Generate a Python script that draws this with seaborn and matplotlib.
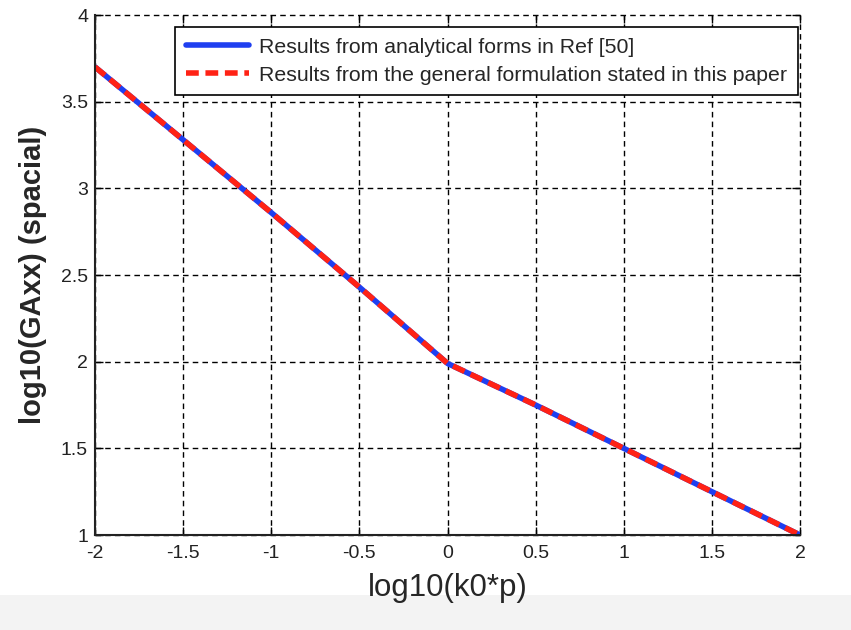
import numpy as np
import pandas as pd
import matplotlib
matplotlib.use("Agg")
import matplotlib.pyplot as plt
import seaborn as sns

# Data
x_vals = [-2.0, -1.5, -1.0, -0.5, 0.0, 0.5, 1.0, 1.5, 2.0]
y_ref50 = [3.70, 3.28, 2.86, 2.43, 1.99, 1.75, 1.50, 1.25, 1.00]
y_paper = [3.70, 3.28, 2.86, 2.43, 1.99, 1.75, 1.50, 1.25, 1.00]
series_names = ["Results from analytical forms in Ref [50]",
                "Results from the general formulation stated in this paper"]
x_ticks = [-2, -1.5, -1, -0.5, 0, 0.5, 1, 1.5, 2]
x_tick_labels = ["-2", "-1.5", "-1", "-0.5", "0", "0.5", "1", "1.5", "2"]
y_ticks = [1, 1.5, 2, 2.5, 3, 3.5, 4]
y_tick_labels = ["1", "1.5", "2", "2.5", "3", "3.5", "4"]
x_label = "log10(k0*p)"
y_label = "log10(GAxx) (spacial)"

sns.set_theme(style="white")
plt.rcParams['font.family'] = ['Liberation Sans', 'DejaVu Sans']

df = pd.concat([
    pd.DataFrame({"x": x_vals, "y": y_ref50, "series": series_names[0]}),
    pd.DataFrame({"x": x_vals, "y": y_paper, "series": series_names[1]}),
])

fig = plt.figure(figsize=(8.51, 6.30), dpi=100)
fig.patch.set_facecolor("white")
# light gray band at the bottom (behind everything)
fig.patches.append(matplotlib.patches.Rectangle((0, 0), 1, 35 / 630, transform=fig.transFigure,
                                                facecolor="#f3f3f3", edgecolor="none", zorder=-5))
ax = fig.add_axes([95 / 851, 1 - 535 / 630, 705 / 851, 520 / 630])
ax.set_zorder(1)
ax.patch.set_alpha(0)

sns.lineplot(data=df, x="x", y="y", hue="series", style="series",
             palette={series_names[0]: "#1f3ff0", series_names[1]: "#ff2215"},
             dashes={series_names[0]: "", series_names[1]: (2.3, 1.2)},
             linewidth=4, ax=ax, sort=False)

ax.set_xlim(-2, 2)
ax.set_ylim(1, 4)
ax.set_xticks(x_ticks)
ax.set_xticklabels(x_tick_labels)
ax.set_yticks(y_ticks)
ax.set_yticklabels(y_tick_labels)
ax.set_xlabel(x_label, fontsize=22.5, labelpad=8)
ax.set_ylabel(y_label, fontsize=21, fontweight="bold", labelpad=10)

ax.grid(True, color="black", linestyle=(0, (4, 3)), linewidth=1.0)
ax.set_axisbelow(True)
for gl in ax.get_xgridlines() + ax.get_ygridlines():
    gl.set_clip_on(False)
for side in ["top", "right"]:
    ax.spines[side].set_visible(False)
for side in ["left", "bottom"]:
    ax.spines[side].set_color("#222222")
    ax.spines[side].set_linewidth(1.5)
ax.tick_params(axis="both", which="major", direction="in", length=6, width=1, color="black",
               top=True, right=True, labelsize=14, labelcolor="#222222",
               bottom=True, left=True)
ax.tick_params(axis="y", pad=5)
ax.tick_params(axis="x", pad=7)

leg = ax.legend(loc="upper right", bbox_to_anchor=(0.9965, 0.977), fontsize=15.3,
                frameon=True, fancybox=False, edgecolor="black", framealpha=1,
                handlelength=3.0, handletextpad=0.45, borderpad=0.5, labelspacing=0.42,
                borderaxespad=0)
leg.get_frame().set_linewidth(1.2)
for line in leg.get_lines():
    line.set_linewidth(4)

fig.savefig("out.png", dpi=100)
